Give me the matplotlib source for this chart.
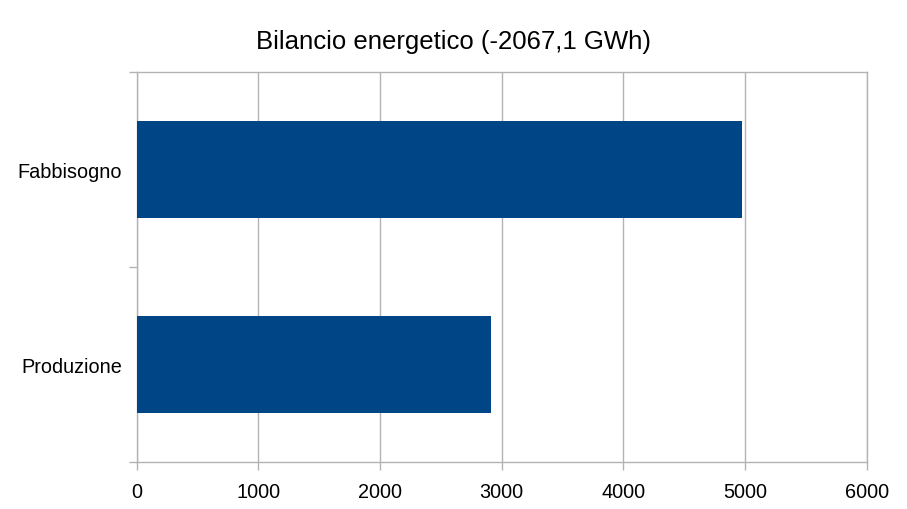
import matplotlib
matplotlib.use("Agg")
import matplotlib.pyplot as plt

plt.rcParams['font.family'] = ['Liberation Sans', 'DejaVu Sans']

# data
categories = ["Produzione", "Fabbisogno"]
values_gwh = [2910.4, 4977.5]
x_ticks = [0, 1000, 2000, 3000, 4000, 5000, 6000]
title = "Bilancio energetico (-2067,1 GWh)"

bar_color = "#004586"
grid_color = "#b3b3b3"

fig = plt.figure(figsize=(9.07, 5.10), dpi=100)
ax = fig.add_axes([136.7 / 907, 1 - 463 / 510, 730 / 907, 390 / 510])

ypos = list(range(len(categories)))
ax.barh(ypos, values_gwh, height=0.5, color=bar_color, zorder=3)

ax.set_xlim(0, 6000)
ax.set_ylim(-0.5, len(categories) - 0.5)

ax.set_xticks(x_ticks)
ax.set_xticklabels([str(t) for t in x_ticks], fontsize=14.3)
ax.grid(axis='x', color=grid_color, linewidth=1, zorder=0)

# category labels in the middle, ticks at the boundaries
ax.set_yticks([y - 0.5 for y in ypos] + [ypos[-1] + 0.5])
ax.set_yticklabels([])
ax.set_yticks(ypos, minor=True)
ax.set_yticklabels(categories, minor=True, fontsize=14.3)
ax.tick_params(axis='y', which='major', length=6, color=grid_color, width=1)
ax.tick_params(axis='y', which='minor', length=0, pad=10.5)
ax.tick_params(axis='x', length=6, color=grid_color, width=1, pad=8.5)

for s in ax.spines.values():
    s.set_color(grid_color)
    s.set_linewidth(1)

fig.text(453.5 / 907, 1 - 42 / 510, title, ha='center', va='center', fontsize=18.5)

fig.savefig("out.png", dpi=100)
